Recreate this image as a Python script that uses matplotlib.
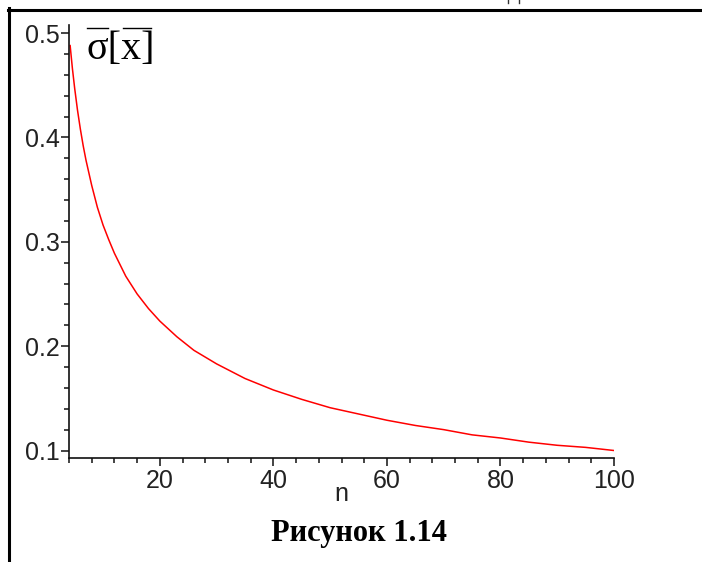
import numpy as np
import matplotlib
matplotlib.use('Agg')
import matplotlib.pyplot as plt
from matplotlib.lines import Line2D
from matplotlib.ticker import MultipleLocator, FormatStrFormatter

# ==========================================
# 1. DADOS
# ==========================================
n_vals = [4.2, 4.6, 5, 5.5, 6, 6.5, 7, 8, 9, 10, 11, 12, 14, 16, 18, 20, 23, 26,
          30, 35, 40, 45, 50, 55, 60, 65, 70, 75, 80, 85, 90, 95, 100]
sigma_vals = [0.488, 0.466, 0.447, 0.426, 0.408, 0.392, 0.378, 0.354, 0.333,
              0.316, 0.302, 0.289, 0.267, 0.250, 0.236, 0.224, 0.209, 0.196,
              0.183, 0.169, 0.158, 0.149, 0.141, 0.135, 0.129, 0.124, 0.120,
              0.115, 0.112, 0.108, 0.105, 0.103, 0.100]

x_ticks = [20, 40, 60, 80, 100]
y_ticks = [0.1, 0.2, 0.3, 0.4, 0.5]
caption = 'Рисунок 1.14'

# ==========================================
# 2. FIGURA
# ==========================================
W, H = 702, 562
fig = plt.figure(figsize=(W / 100, H / 100), dpi=100)
fig.patch.set_facecolor('white')

ax = fig.add_axes([69 / W, 1 - 457.5 / H, (614 - 69) / W, (457.5 - 25) / H])
ax.plot(n_vals, sigma_vals, color='#ff0000', lw=1.1)

ax.set_xlim(4, 100)
ax.set_ylim(0.0933, 0.5077)

for s in ['top', 'right']:
    ax.spines[s].set_visible(False)
for s in ['left', 'bottom']:
    ax.spines[s].set_color('#111111')
    ax.spines[s].set_linewidth(1.2)

ax.set_xticks(x_ticks)
ax.set_yticks(y_ticks)
ax.xaxis.set_minor_locator(MultipleLocator(4))
ax.yaxis.set_minor_locator(MultipleLocator(0.02))
ax.yaxis.set_major_formatter(FormatStrFormatter('%.1f'))

tick_font = ['Liberation Sans', 'DejaVu Sans']
ax.tick_params(axis='both', which='major', direction='out', length=5.5, width=1.1,
               color='#111111', labelsize=18, labelcolor='#222222')
ax.tick_params(axis='both', which='minor', direction='out', length=3.8, width=1.1,
               color='#111111')
ax.tick_params(axis='y', which='major', pad=1)
ax.tick_params(axis='x', which='major', pad=3)
for lab in ax.get_xticklabels() + ax.get_yticklabels():
    lab.set_family(tick_font)

ax.set_xlabel('n', fontsize=18, family=tick_font, color='#222222')
ax.xaxis.set_label_coords(0.5, -0.1006)
ax.xaxis.label.set_va('baseline')

# ==========================================
# 3. TEXTOS E MOLDURA
# ==========================================
fig.text(87 / W, 1 - 59 / H, 'σ[x]', fontsize=29, family='Liberation Serif',
         color='black', ha='left', va='baseline')
fig.add_artist(Line2D([87 / W, 108 / W], [1 - 28 / H, 1 - 28 / H],
                      color='black', lw=1.0))
fig.add_artist(Line2D([123 / W, 151 / W], [1 - 28 / H, 1 - 28 / H],
                      color='black', lw=1.0))

fig.text(359 / W, 1 - 541 / H, caption, fontsize=22, family='Liberation Serif',
         fontweight='bold', ha='center', va='baseline')

# restos de uma letra cortada no topo da página
for xp in [508, 519]:
    fig.add_artist(Line2D([xp / W, xp / W], [1.0, 1 - 3 / H], color='#333333', lw=1.0))

fig.add_artist(Line2D([8 / W, 1.0], [1 - 9.5 / H, 1 - 9.5 / H], color='black', lw=2.2))
fig.add_artist(Line2D([9 / W, 9 / W], [0.0, 1 - 8 / H], color='black', lw=2.2))

fig.savefig('out.png', dpi=100)
